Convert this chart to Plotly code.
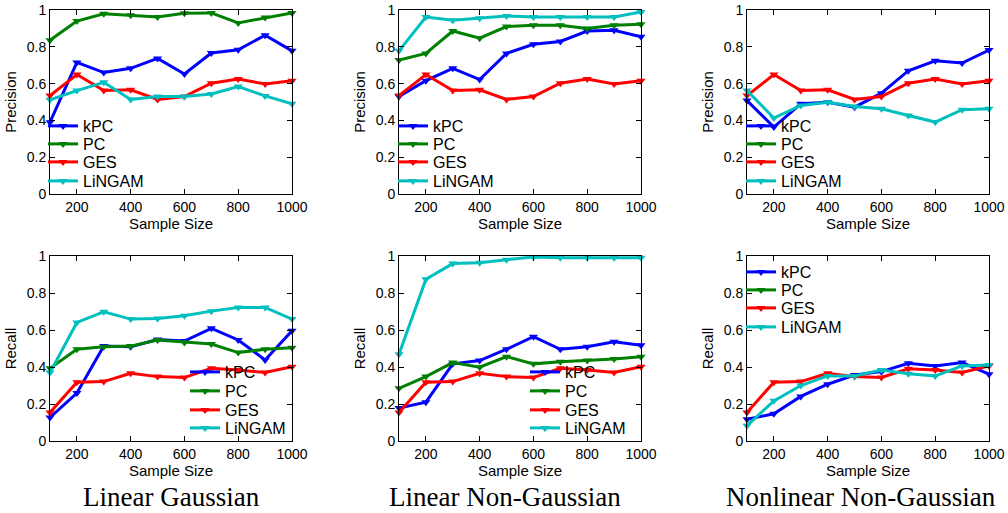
import plotly.graph_objects as go

W, H = 1008, 513

sample_sizes = [100, 200, 300, 400, 500, 600, 700, 800, 900, 1000]
methods = ["kPC", "PC", "GES", "LiNGAM"]
colors = {"kPC": "#0000FF", "PC": "#008000", "GES": "#FF0000", "LiNGAM": "#00BFBF"}

# Precision – Linear Gaussian
prec_lg_kpc = [0.39, 0.715, 0.66, 0.683, 0.737, 0.652, 0.766, 0.784, 0.863, 0.778]
prec_lg_pc = [0.836, 0.94, 0.98, 0.971, 0.962, 0.982, 0.984, 0.93, 0.959, 0.984]
prec_lg_ges = [0.535, 0.649, 0.562, 0.566, 0.514, 0.53, 0.602, 0.625, 0.598, 0.616]
prec_lg_lingam = [0.512, 0.562, 0.607, 0.514, 0.53, 0.53, 0.544, 0.584, 0.533, 0.49]

# Precision – Linear Non-Gaussian
prec_lng_kpc = [0.53, 0.616, 0.683, 0.622, 0.764, 0.814, 0.829, 0.886, 0.89, 0.854]
prec_lng_pc = [0.728, 0.764, 0.886, 0.847, 0.91, 0.917, 0.917, 0.90, 0.917, 0.922]
prec_lng_ges = [0.535, 0.649, 0.562, 0.566, 0.514, 0.53, 0.602, 0.625, 0.598, 0.616]
prec_lng_lingam = [0.778, 0.962, 0.944, 0.955, 0.968, 0.962, 0.962, 0.962, 0.962, 0.989]

# Precision – Nonlinear Non-Gaussian (PC not available)
prec_nng_kpc = [0.508, 0.364, 0.49, 0.499, 0.472, 0.548, 0.67, 0.724, 0.712, 0.782]
prec_nng_pc = [None] * 10
prec_nng_ges = [0.535, 0.649, 0.562, 0.566, 0.514, 0.53, 0.602, 0.625, 0.598, 0.616]
prec_nng_lingam = [0.562, 0.413, 0.481, 0.499, 0.476, 0.463, 0.427, 0.391, 0.458, 0.463]

# Recall – Linear Gaussian
rec_lg_kpc = [0.127, 0.259, 0.513, 0.51, 0.549, 0.54, 0.609, 0.546, 0.438, 0.596]
rec_lg_pc = [0.393, 0.496, 0.51, 0.513, 0.546, 0.533, 0.524, 0.478, 0.496, 0.504]
rec_lg_ges = [0.154, 0.318, 0.321, 0.366, 0.348, 0.343, 0.393, 0.384, 0.37, 0.402]
rec_lg_lingam = [0.37, 0.641, 0.698, 0.659, 0.662, 0.677, 0.702, 0.722, 0.722, 0.659]

# Recall – Linear Non-Gaussian
rec_lng_kpc = [0.178, 0.21, 0.417, 0.435, 0.496, 0.564, 0.496, 0.51, 0.537, 0.517]
rec_lng_pc = [0.285, 0.348, 0.424, 0.399, 0.456, 0.417, 0.429, 0.435, 0.443, 0.456]
rec_lng_ges = [0.154, 0.318, 0.321, 0.366, 0.348, 0.343, 0.393, 0.384, 0.37, 0.402]
rec_lng_lingam = [0.469, 0.874, 0.959, 0.964, 0.98, 0.995, 0.991, 0.991, 0.991, 0.991]

# Recall – Nonlinear Non-Gaussian (PC not available)
rec_nng_kpc = [0.118, 0.147, 0.241, 0.307, 0.357, 0.375, 0.42, 0.406, 0.424, 0.361]
rec_nng_pc = [None] * 10
rec_nng_ges = [0.154, 0.318, 0.321, 0.366, 0.348, 0.343, 0.39, 0.384, 0.37, 0.406]
rec_nng_lingam = [0.083, 0.217, 0.3, 0.352, 0.352, 0.384, 0.363, 0.352, 0.406, 0.411]

y_tick_vals = [0, 0.2, 0.4, 0.6, 0.8, 1]
y_tick_text = ["0", "0.2", "0.4", "0.6", "0.8", "1"]
x_tick_vals = [200, 400, 600, 800, 1000]
x_tick_text = ["200", "400", "600", "800", "1000"]
column_titles = ["Linear Gaussian", "Linear Non-Gaussian", "Nonlinear Non-Gaussian"]

top_leg_rows = [126, 144, 162, 181]
bot_leg_rows = [372, 391, 410, 428]
mid_leg_rows = [272, 290, 308, 327]

panels = [
    # (data, ylabel, x_px(left,right), y_px(top,bottom), legend x_px, legend row centers)
    ([prec_lg_kpc, prec_lg_pc, prec_lg_ges, prec_lg_lingam], "Precision", (50, 292), (10, 194), 43, top_leg_rows),
    ([prec_lng_kpc, prec_lng_pc, prec_lng_ges, prec_lng_lingam], "Precision", (399, 641), (10, 194), 393, top_leg_rows),
    ([prec_nng_kpc, prec_nng_pc, prec_nng_ges, prec_nng_lingam], "Precision", (747, 989), (10, 194), 741, top_leg_rows),
    ([rec_lg_kpc, rec_lg_pc, rec_lg_ges, rec_lg_lingam], "Recall", (50, 292), (256, 441), 185, bot_leg_rows),
    ([rec_lng_kpc, rec_lng_pc, rec_lng_ges, rec_lng_lingam], "Recall", (399, 641), (256, 441), 525, bot_leg_rows),
    ([rec_nng_kpc, rec_nng_pc, rec_nng_ges, rec_nng_lingam], "Recall", (747, 989), (256, 441), 741, mid_leg_rows),
]

fig = go.Figure()
font_family = "Liberation Sans, Arial, sans-serif"
layout = dict(
    width=W, height=H, margin=dict(l=0, r=0, t=0, b=0, autoexpand=False),
    paper_bgcolor="white", plot_bgcolor="white",
    font=dict(family=font_family, size=14, color="black"),
    showlegend=True,
)

leg_count = 0
for i, (series, ylab, (xl, xr), (yt, yb), lx, rows) in enumerate(panels):
    n = i + 1
    xa = "x" if n == 1 else f"x{n}"
    ya = "y" if n == 1 else f"y{n}"
    for m, vals, ry in zip(methods, series, rows):
        leg_count += 1
        leg = "legend" if leg_count == 1 else f"legend{leg_count}"
        fig.add_trace(go.Scatter(
            x=sample_sizes, y=vals, name=m, mode="lines+markers",
            line=dict(color=colors[m], width=3),
            marker=dict(symbol="triangle-down", size=8, color=colors[m]),
            xaxis=xa, yaxis=ya, legend=leg, showlegend=True,
            cliponaxis=False,
        ))
        layout[leg] = dict(
            x=lx / W, y=1 - ry / H, xanchor="left", yanchor="middle",
            bgcolor="rgba(0,0,0,0)", borderwidth=0,
            font=dict(size=16, family=font_family),
            itemwidth=30,
        )
    axis_common = dict(
        showline=True, linecolor="black", linewidth=1, mirror="ticks",
        ticks="inside", ticklen=5, tickcolor="black", showgrid=False, zeroline=False,
        tickfont=dict(size=14, family=font_family),
    )
    layout["xaxis" if n == 1 else f"xaxis{n}"] = dict(
        domain=[xl / W, xr / W], range=[100, 1000], anchor=ya,
        tickvals=x_tick_vals, ticktext=x_tick_text,
        title=dict(text="Sample Size", standoff=1, font=dict(size=15)),
        **axis_common,
    )
    layout["yaxis" if n == 1 else f"yaxis{n}"] = dict(
        domain=[1 - yb / H, 1 - yt / H], range=[0, 1], anchor=xa,
        tickvals=y_tick_vals, ticktext=y_tick_text,
        title=dict(text=ylab, standoff=6, font=dict(size=15)),
        **axis_common,
    )

annotations = []
for title, cx in zip(column_titles, [171, 505, 861]):
    annotations.append(dict(
        text=title, x=cx / W, y=1 - 497 / H, xref="paper", yref="paper",
        xanchor="center", yanchor="middle", showarrow=False,
        font=dict(family="Liberation Serif, Times New Roman, serif", size=27, color="black"),
    ))
layout["annotations"] = annotations

fig.update_layout(**layout)
fig.write_html(
    "out.html",
    config={"displayModeBar": False},
    post_script="document.body.style.margin='0px';document.body.style.padding='0px';",
)
